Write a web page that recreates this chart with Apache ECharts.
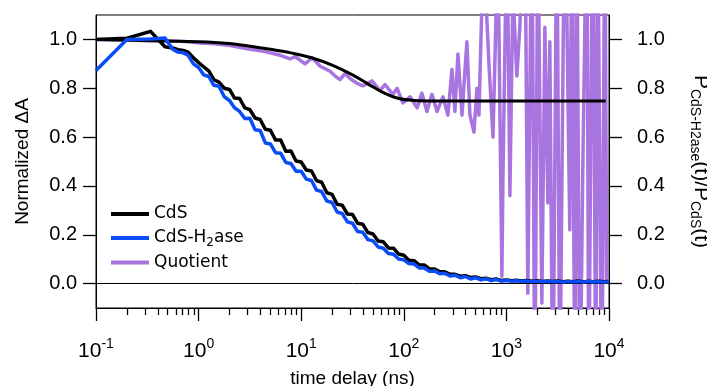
<!DOCTYPE html>
<html><head><meta charset="utf-8">
<script src="https://cdn.jsdelivr.net/npm/echarts@6/dist/echarts.min.js"></script>
<style>html,body{margin:0;padding:0;background:#fff}#c{width:707px;height:386px}</style>
</head><body><div id="c"></div>
<script>
// time delay (ns) for CdS and CdS-H2ase traces
const timeData = [0.1, 0.2, 0.34, 0.47, 0.56, 0.63, 0.71, 0.79, 0.89,
  1.0, 1.12, 1.26, 1.41, 1.58, 1.78, 2.0, 2.24, 2.51, 2.82, 3.16, 3.55, 3.98, 4.47, 5.01, 5.62, 6.31, 7.08, 7.94, 8.91,
  10, 11.2, 12.6, 14.1, 15.8, 17.8, 20, 22.4, 25.1, 28.2, 31.6, 35.5, 39.8, 44.7, 50.1, 56.2, 63.1, 70.8, 79.4, 89.1,
  100, 112, 126, 141, 158, 178, 200, 224, 251, 282, 316, 355, 398, 447, 501, 562, 631, 708, 794, 891,
  1000, 1120, 1260, 1410, 1580, 1780, 2000, 2240, 2510, 2820, 3160, 3550, 3980, 4470, 5010, 5620, 6310, 7080, 7940, 8910, 10000];
const cdsValues = [1.0, 1.005, 1.033, 0.97, 0.965, 0.958, 0.955, 0.948, 0.925,
  0.905, 0.888, 0.87, 0.835, 0.825, 0.8, 0.795, 0.76, 0.758, 0.72, 0.712, 0.678, 0.672, 0.632, 0.628, 0.588, 0.588, 0.542, 0.543, 0.502,
  0.498, 0.465, 0.461, 0.422, 0.415, 0.372, 0.365, 0.325, 0.321, 0.285, 0.283, 0.247, 0.243, 0.209, 0.203, 0.174, 0.171, 0.146, 0.145, 0.121,
  0.116, 0.096, 0.094, 0.076, 0.076, 0.06, 0.06, 0.048, 0.048, 0.038, 0.038, 0.03, 0.032, 0.025, 0.027, 0.02, 0.022, 0.016, 0.019, 0.013,
  0.015, 0.012, 0.014, 0.011, 0.013, 0.01, 0.012, 0.009, 0.011, 0.009, 0.011, 0.008, 0.01, 0.008, 0.011, 0.007, 0.01, 0.008, 0.01, 0.008, 0.009];
const h2aseValues = [0.873, 1.0, 1.002, 1.006, 0.96, 0.948, 0.945, 0.935, 0.9,
  0.885, 0.855, 0.848, 0.812, 0.808, 0.765, 0.75, 0.72, 0.705, 0.676, 0.677, 0.63, 0.627, 0.576, 0.572, 0.536, 0.534, 0.496, 0.492, 0.46,
  0.46, 0.428, 0.422, 0.383, 0.377, 0.338, 0.332, 0.293, 0.287, 0.253, 0.247, 0.213, 0.21, 0.18, 0.175, 0.15, 0.145, 0.123, 0.12, 0.101,
  0.097, 0.082, 0.08, 0.064, 0.064, 0.05, 0.052, 0.04, 0.042, 0.031, 0.034, 0.024, 0.029, 0.019, 0.024, 0.015, 0.02, 0.012, 0.017, 0.01,
  0.013, 0.01, 0.012, 0.009, 0.011, 0.008, 0.01, 0.007, 0.01, 0.008, 0.009, 0.006, 0.009, 0.007, 0.009, 0.006, 0.009, 0.007, 0.008, 0.006, 0.008];
// quotient P_CdS-H2ase(t)/P_CdS(t)
const quotientTime = [0.1, 0.2, 0.34, 0.47, 0.63, 0.79, 1.04, 1.45, 2.03, 3.18, 4.46, 6.23, 7.8, 8.72, 10.9, 12.8, 15.3, 17.1, 19.1, 21.4,
  23.9, 26.7, 29.9, 35.0, 40.1, 49.0, 58.6, 65.6, 78.5, 85.9, 98, 115, 135, 150, 168, 188, 211, 241, 269, 295,
  315, 337, 369, 412, 441, 483, 516, 540, 590, 618, 676, 740, 826, 904, 925, 1012, 1082, 1157, 1265, 1352,
  1514, 1618, 1770, 1893, 2026, 2216, 2371, 2535, 2651, 2836, 3102, 3318, 3710, 4148, 4342, 4643, 4853, 5192, 5554, 6074,
  6355, 6950, 7431, 7780, 8511, 9105, 9510];
const quotientValues = [1.0, 0.998, 0.995, 0.995, 0.993, 0.99, 0.985, 0.982, 0.975, 0.96, 0.95, 0.935, 0.92, 0.93, 0.9, 0.925, 0.89, 0.88, 0.87, 0.85,
  0.835, 0.86, 0.84, 0.82, 0.81, 0.83, 0.79, 0.815, 0.775, 0.8, 0.74, 0.765, 0.72, 0.78, 0.705, 0.775, 0.705, 0.765, 0.69, 0.877,
  0.705, 0.94, 0.69, 0.99, 0.69, 0.62, 0.8, 0.69, 1.3, 1.25, 0.9, 0.6, 1.4, 0.03, 0.43, 1.5, 0.36, 1.2, 0.85, 1.05,
  1.6, -0.04, 1.6, -0.5, 1.5, -0.08, 1.05, 0.33, 0.99, -0.6, 1.6, -0.5, 1.7, 0.22, 1.6, -0.5, 1.6, -0.6, 0.47, 1.6,
  -0.5, 1.7, -0.5, 1.5, -0.6, 1.6, 0.0];
// fitted ratio curve
const fitTime = [0.1, 1, 2, 3.16, 5, 7.94, 12.6, 20, 31.6, 44.7, 63.1, 89.1, 126, 200, 1000, 9300];
const fitValues = [1.0, 0.99, 0.983, 0.972, 0.96, 0.945, 0.925, 0.895, 0.855, 0.818, 0.782, 0.758, 0.75, 0.748, 0.748, 0.748];

const yTicks = [0, 0.2, 0.4, 0.6, 0.8, 1.0];
const xMinorTicks = [0.2, 0.3, 0.4, 0.5, 0.6, 0.7, 0.8, 0.9, 2, 3, 4, 5, 6, 7, 8, 9,
  20, 30, 40, 50, 60, 70, 80, 90, 200, 300, 400, 500, 600, 700, 800, 900,
  2000, 3000, 4000, 5000, 6000, 7000, 8000, 9000];
const seriesNames = ['CdS', 'CdS-H2ase', 'Quotient'];
const colors = {cds: '#000000', h2ase: '#0a4cf7', quot: '#a874e0'};

const font = 'Liberation Sans, Arial, sans-serif';
const chart = echarts.init(document.getElementById('c'));
const yAxisCommon = {
  type: 'value', min: -0.1, max: 1.1,
  axisLine: {show: true, lineStyle: {color: '#000', width: 1}},
  axisTick: {show: true, inside: false, length: 13, lineStyle: {color: '#000', width: 1.3}, customValues: yTicks},
  axisLabel: {customValues: yTicks, color: '#000', fontSize: 20, fontFamily: font, margin: 19,
    formatter: v => v.toFixed(1)},
  splitLine: {show: false}
};
const option = {
  animation: false,
  backgroundColor: '#fff',
  grid: {left: 96, right: 98, top: 15, bottom: 78, show: true, borderColor: '#000', borderWidth: 1,
    backgroundColor: 'transparent', containLabel: false, outerBoundsMode: 'none'},
  legend: {
    data: seriesNames, orient: 'vertical', left: 106, top: 199,
    icon: 'rect', itemWidth: 38, itemHeight: 4, itemGap: 4,
    textStyle: {fontSize: 17, fontFamily: 'DejaVu Sans, sans-serif', color: '#000', lineHeight: 20,
      rich: {n: {fontSize: 17, fontFamily: 'DejaVu Sans, sans-serif', color: '#000'},
             sub: {fontSize: 12, fontFamily: 'DejaVu Sans, sans-serif', color: '#000', padding: [9, 0, 0, 0]}}},
    formatter: n => n === 'CdS-H2ase' ? '{n|CdS-H}{sub|2}{n|ase}' : n
  },
  xAxis: [{
    type: 'log', logBase: 10, min: 0.1, max: 10000,
    name: 'time delay (ns)', nameLocation: 'middle', nameGap: 61,
    nameTextStyle: {fontSize: 19, fontFamily: font, color: '#000'},
    axisLine: {show: true, onZero: false, lineStyle: {color: '#000', width: 1}},
    axisTick: {show: true, length: 13, lineStyle: {color: '#000', width: 1.3}},
    axisLabel: {color: '#000', margin: 29, fontFamily: font,
      formatter: v => '{b|10}{s|' + Math.round(Math.log10(v)) + '}',
      rich: {b: {fontSize: 21, fontFamily: font, color: '#000'},
             s: {fontSize: 14, fontFamily: font, color: '#000', padding: [0, 0, 14, 0]}}},
    splitLine: {show: false}
  }, {
    type: 'log', logBase: 10, min: 0.1, max: 10000, position: 'bottom',
    axisLine: {show: false, onZero: false},
    axisTick: {show: true, length: 7, lineStyle: {color: '#000', width: 1.3}, customValues: xMinorTicks},
    axisLabel: {show: false},
    splitLine: {show: false}
  }],
  yAxis: [Object.assign({}, yAxisCommon, {
    position: 'left',
    name: 'Normalized \u0394A', nameLocation: 'middle', nameGap: 64, nameRotate: 90,
    nameTextStyle: {fontSize: 19, fontFamily: font, color: '#000'}
  }), Object.assign({}, yAxisCommon, {
    position: 'right',
    axisLabel: Object.assign({}, yAxisCommon.axisLabel, {margin: 28}),
    name: '{p|P}{sub|CdS-H2ase}{p|(t)/P}{sub|CdS}{p|(t)}', nameLocation: 'middle', nameGap: 79, nameRotate: -90,
    nameTextStyle: {fontSize: 21, fontFamily: font, color: '#000',
      rich: {p: {fontSize: 21, fontFamily: font, color: '#000'},
             sub: {fontSize: 14, fontFamily: font, color: '#000', padding: [12, 0, 0, 0]}}}
  })],
  series: [{
    name: 'Quotient', type: 'line', xAxisIndex: 0, yAxisIndex: 1, showSymbol: false, clip: true,
    data: quotientTime.map((t, i) => [t, quotientValues[i]]),
    lineStyle: {color: colors.quot, width: 3.5, join: 'round'}, itemStyle: {color: colors.quot}, z: 2
  }, {
    name: 'fit', type: 'line', xAxisIndex: 0, yAxisIndex: 1, showSymbol: false, smooth: 0.4, clip: true,
    data: fitTime.map((t, i) => [t, fitValues[i]]),
    lineStyle: {color: '#000', width: 3}, itemStyle: {color: '#000'}, z: 3
  }, {
    name: 'CdS', type: 'line', xAxisIndex: 0, yAxisIndex: 0, showSymbol: false, clip: true,
    data: timeData.map((t, i) => [t, cdsValues[i]]),
    lineStyle: {color: colors.cds, width: 3.5, join: 'round'}, itemStyle: {color: colors.cds}, z: 4,
    markLine: {silent: true, symbol: 'none', label: {show: false},
      lineStyle: {color: '#000', width: 1, type: 'solid'}, data: [{yAxis: 0}]}
  }, {
    name: 'CdS-H2ase', type: 'line', xAxisIndex: 0, yAxisIndex: 0, showSymbol: false, clip: true,
    data: timeData.map((t, i) => [t, h2aseValues[i]]),
    lineStyle: {color: colors.h2ase, width: 3.5, join: 'round'}, itemStyle: {color: colors.h2ase}, z: 5
  }]
};
chart.setOption(option);
</script></body></html>
